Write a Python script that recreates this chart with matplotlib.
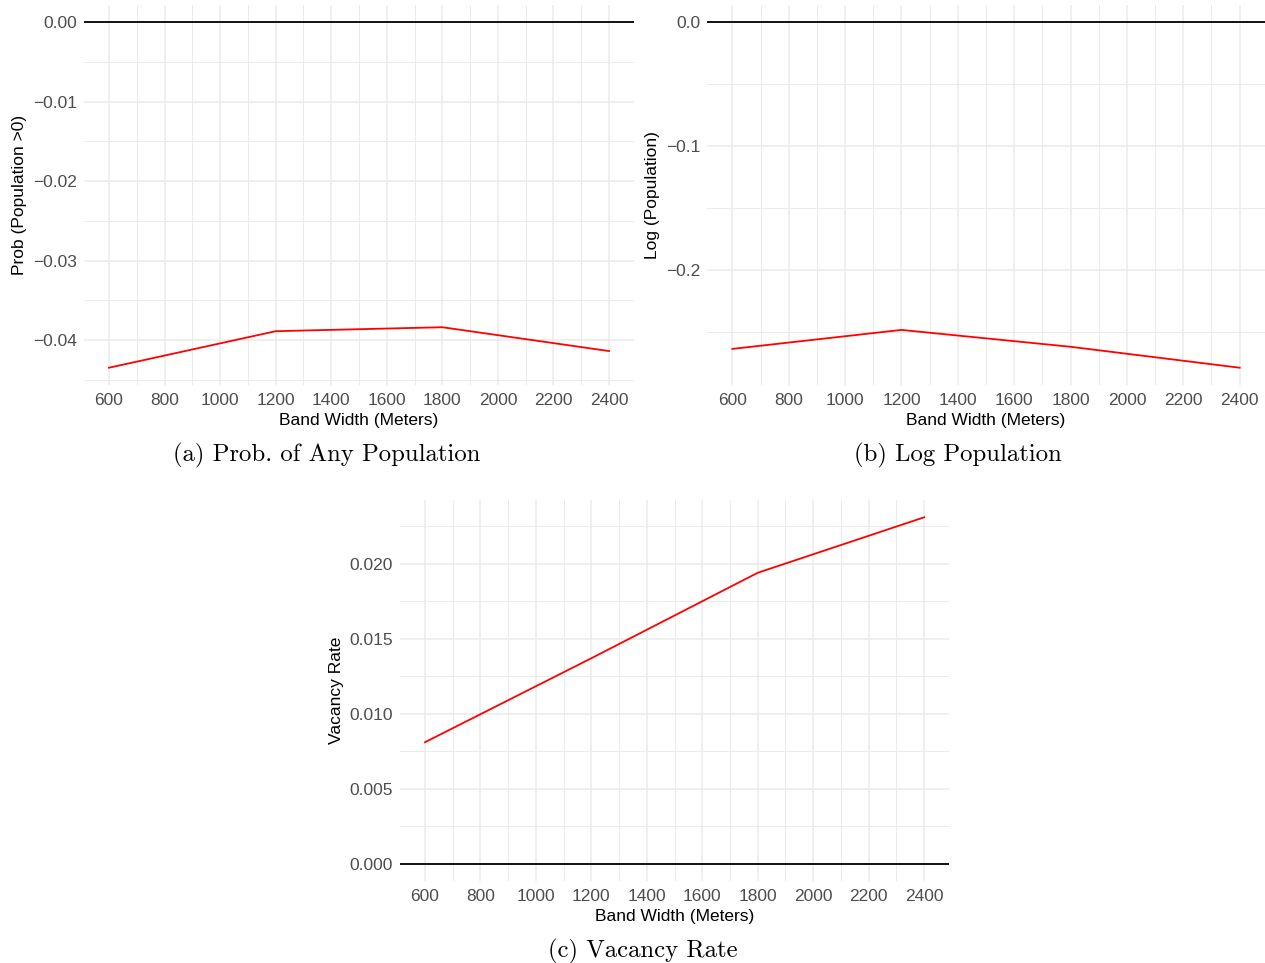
import matplotlib
matplotlib.use("Agg")
import matplotlib.pyplot as plt
from matplotlib.ticker import MultipleLocator, FuncFormatter

# estimated effects by band width
band = [600, 1200, 1800, 2400]
prob_any = [-0.0435, -0.0389, -0.0384, -0.0414]
log_pop = [-0.2635, -0.2482, -0.2618, -0.2787]
vacancy = [0.0081, 0.0137, 0.0194, 0.0231]

plt.rcParams['font.family'] = ['Liberation Sans', 'DejaVu Sans']

W, H = 1265, 963
fig = plt.figure(figsize=(W / 100, H / 100), dpi=100)


def px_axes(left, top, right, bottom):
    return fig.add_axes([left / W, 1 - bottom / H, (right - left) / W, (bottom - top) / H])


def fmt(decimals):
    def f(v, pos):
        s = "%.*f" % (decimals, v)
        if float(s) == 0:
            s = "%.*f" % (decimals, 0.0)
        return s.replace("-", "\u2212")
    return FuncFormatter(f)


def panel(ax, y, ylabel, major, minor, decimals, caption, cap_x, cap_y):
    ax.plot(band, y, color="red", lw=1.3, zorder=3)
    ax.axhline(0, color="black", lw=1.3, zorder=3)
    # ggplot-style 5% expansion of data range (incl. the zero line)
    lo, hi = min(min(y), 0), max(max(y), 0)
    pad = (hi - lo) * 0.05
    ax.set_ylim(lo - pad, hi + pad)
    ax.set_xlim(510, 2490)
    ax.xaxis.set_major_locator(MultipleLocator(200))
    ax.xaxis.set_minor_locator(MultipleLocator(100))
    ax.yaxis.set_major_locator(MultipleLocator(major))
    ax.yaxis.set_minor_locator(MultipleLocator(minor))
    ax.yaxis.set_major_formatter(fmt(decimals))
    ax.grid(which="major", color="#EBEBEB", lw=1.1)
    ax.grid(which="minor", color="#EBEBEB", lw=0.7)
    ax.set_axisbelow(True)
    for s in ax.spines.values():
        s.set_visible(False)
    ax.tick_params(which="both", length=0, labelsize=12.5, labelcolor="#4D4D4D")
    ax.tick_params(axis="x", pad=6)
    ax.tick_params(axis="y", pad=5)
    ax.set_xlabel("Band Width (Meters)", fontsize=12.5, labelpad=3)
    ax.set_ylabel(ylabel, fontsize=12.5, labelpad=4)
    fig.text(cap_x / W, 1 - cap_y / H, caption, family="cmr10", fontsize=17.8,
             ha="center", va="center")


ax_a = px_axes(84, 5, 634, 385)
panel(ax_a, prob_any, "Prob (Population >0)", 0.01, 0.005, 2,
      "(a) Prob. of Any Population", 327, 455)

ax_b = px_axes(707, 5, 1265, 385)
panel(ax_b, log_pop, "Log (Population)", 0.1, 0.05, 1,
      "(b) Log Population", 958, 455)

ax_c = px_axes(400, 500, 949, 881)
panel(ax_c, vacancy, "Vacancy Rate", 0.005, 0.0025, 3,
      "(c) Vacancy Rate", 643, 951)

fig.savefig("out.png", dpi=100, facecolor="white")
